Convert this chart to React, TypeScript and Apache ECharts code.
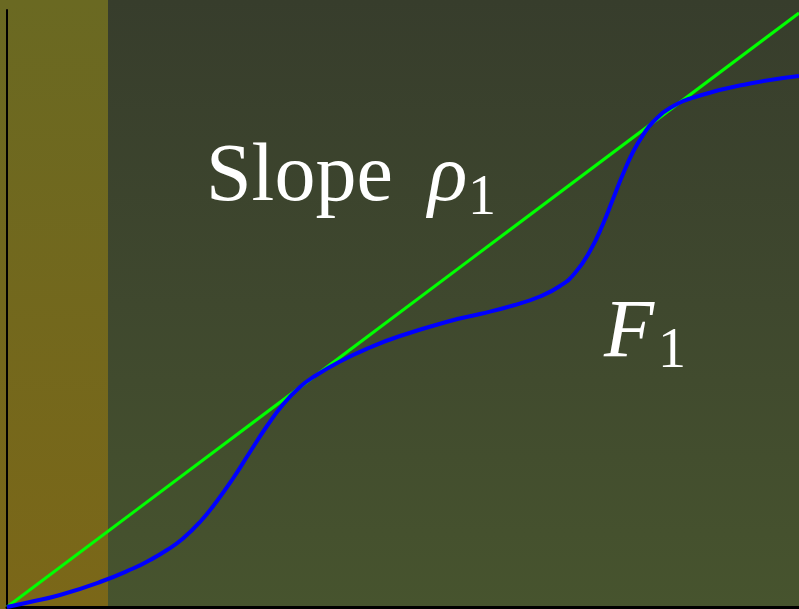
import React, { useEffect, useRef } from "react";
import * as echarts from "echarts";

// Plot coordinates: x runs 0..792, y runs 0..597 (origin at the axis corner).
const X_MAX = 792;
const Y_MAX = 597;

// Straight line through the origin with slope rho_1 (3/4 in plot units).
const slopeX = [0, 792];
const slopeY = [0, 594];

// The cumulative curve F_1.
const curveX = [0, 23, 53, 93, 126, 143, 160, 176, 193, 210, 226, 243, 260, 276, 293, 308, 333, 363, 393, 443, 473, 506, 533, 553, 568, 583, 596, 606, 616, 626, 636, 646, 663, 693, 743, 792];
const curveY = [0, 5, 12, 25, 38.5, 47, 57, 68.5, 85, 106, 128.5, 155, 181, 202.5, 220, 231, 245.5, 259.5, 271, 286, 293, 301.5, 310.5, 321, 334, 356, 383, 408, 433, 455, 472, 485, 499, 511.5, 523.5, 531];

// Shaded band at the left edge, in plot x units.
const bandEnd = 101;

const serif = '"Liberation Serif", "DejaVu Serif", serif';

export default function App() {
  const ref = useRef<HTMLDivElement>(null);

  useEffect(() => {
    if (!ref.current) return;
    const chart = echarts.init(ref.current, null, { renderer: "svg" });

    const slopeData = slopeX.map((x, i) => [x, slopeY[i]]);
    const curveData = curveX.map((x, i) => [x, curveY[i]]);

    chart.setOption({
      animation: false,
      backgroundColor: "transparent",
      grid: { left: 7, top: 10, width: X_MAX, height: Y_MAX, containLabel: false },
      xAxis: {
        type: "value",
        min: 0,
        max: X_MAX,
        axisLine: { show: true, onZero: false, lineStyle: { color: "#000", width: 3 } },
        axisTick: { show: false },
        axisLabel: { show: false },
        splitLine: { show: false },
      },
      yAxis: {
        type: "value",
        min: 0,
        max: Y_MAX,
        axisLine: { show: true, onZero: false, lineStyle: { color: "#000", width: 2 } },
        axisTick: { show: false },
        axisLabel: { show: false },
        splitLine: { show: false },
      },
      graphic: [
        {
          type: "rect",
          z: -10,
          silent: true,
          shape: { x: 0, y: 0, width: 7 + bandEnd, height: 609 },
          style: {
            fill: new echarts.graphic.LinearGradient(0, 0, 0, 1, [
              { offset: 0, color: "#6a6922" },
              { offset: 1, color: "#7b6718" },
            ]),
          },
        },
        {
          type: "text",
          z: 100,
          style: { text: "Slope", x: 206, y: 172, font: `82px ${serif}`, fill: "#ffffff", align: "left", verticalAlign: "middle" },
        },
        {
          type: "text",
          z: 100,
          style: { text: "ρ", x: 428, y: 172, font: `italic 82px ${serif}`, fill: "#ffffff", align: "left", verticalAlign: "middle" },
        },
        {
          type: "text",
          z: 100,
          style: { text: "1", x: 468, y: 195, font: `56px ${serif}`, fill: "#ffffff", align: "left", verticalAlign: "middle" },
        },
        {
          type: "text",
          z: 100,
          style: { text: "F", x: 604, y: 328, font: `italic 82px ${serif}`, fill: "#ffffff", align: "left", verticalAlign: "middle" },
        },
        {
          type: "text",
          z: 100,
          style: { text: "1", x: 658, y: 348, font: `56px ${serif}`, fill: "#ffffff", align: "left", verticalAlign: "middle" },
        },
      ],
      series: [
        {
          type: "line",
          data: slopeData,
          showSymbol: false,
          lineStyle: { color: "#00ff00", width: 3 },
          z: 3,
        },
        {
          type: "line",
          data: curveData,
          smooth: 0.5,
          showSymbol: false,
          lineStyle: { color: "#0000ff", width: 4 },
          z: 4,
        },
      ],
    });

    return () => chart.dispose();
  }, []);

  return (
    <div
      ref={ref}
      style={{
        position: "fixed",
        left: 0,
        top: 0,
        width: 799,
        height: 609,
        background: "linear-gradient(to bottom, #373d2c 0%, #3f482e 50%, #47542e 100%)",
      }}
    />
  );
}
